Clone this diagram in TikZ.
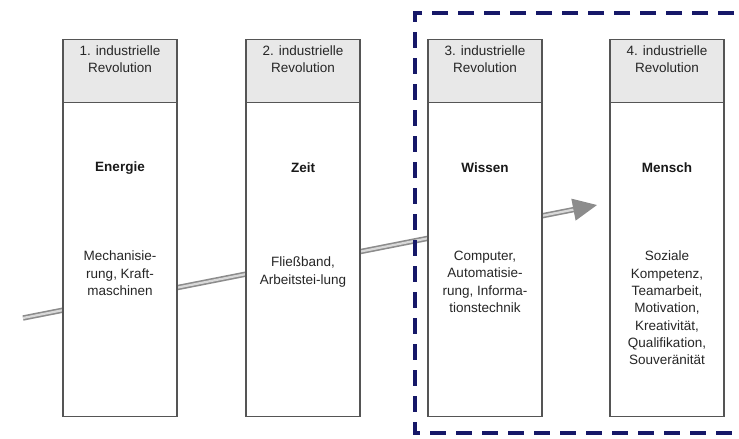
\documentclass[tikz,border=0pt]{standalone}
\usepackage{fontspec}
\setmainfont{Liberation Sans}
\usetikzlibrary{arrows.meta,positioning}
\definecolor{navyframe}{RGB}{22,24,104}
\definecolor{headgray}{RGB}{232,232,232}
\definecolor{boxline}{RGB}{85,85,85}
\tikzset{
  headbox/.style={draw=boxline, line width=1.3pt, fill=headgray, minimum width=114pt, minimum height=63pt, inner sep=0pt, anchor=north},
  bodybox/.style={draw=boxline, line width=1.3pt, fill=white, minimum width=114pt, minimum height=314pt, inner sep=0pt, anchor=north},
  headtext/.style={align=center, anchor=north, inner sep=0pt, text=black!85, font=\fontsize{13.5}{17}\selectfont},
  keytext/.style={inner sep=0pt, text=black!90, font=\fontsize{13.5}{17}\selectfont\bfseries},
  bodytext/.style={align=center, anchor=north, inner sep=0pt, text=black!85, font=\fontsize{13.5}{17.3}\selectfont},
  timeline/.style={draw=gray!90, line width=1.6pt, double=gray!30, double distance=2.2pt, -{Triangle[length=24pt,width=22pt,fill=gray!90]}},
  frame/.style={draw=navyframe, line width=4pt, dash pattern=on 16pt off 10pt}
}
\begin{document}
\begin{tikzpicture}[x=1pt,y=-1pt]
  \useasboundingbox (0,0) rectangle (739,439);
  \coordinate (start) at (23,318);
  \coordinate (tip) at (597,205);
  \draw[timeline] (start) -- (tip);
  \draw[frame] (760,13) -- (415,13) -- (415,433) -- (760,433);

  \node[bodybox] (body1) at (120,102) {};
  \node[headbox] (head1) at (120,39) {};
  \node[headtext] (rev1) at (120,46) {1. industrielle\\Revolution};
  \node[keytext] (key1) at (120,168) {Energie};
  \node[bodytext] (txt1) at (120,251) {Mechanisie-\\rung, Kraft-\\maschinen};

  \node[bodybox] (body2) at (303,102) {};
  \node[headbox] (head2) at (303,39) {};
  \node[headtext] (rev2) at (303,46) {2. industrielle\\Revolution};
  \node[keytext] (key2) at (303,168) {Zeit};
  \node[bodytext] (txt2) at (303,257) {Fließband,\\Arbeitstei-lung};

  \node[bodybox] (body3) at (485,102) {};
  \node[headbox] (head3) at (485,39) {};
  \node[headtext] (rev3) at (485,46) {3. industrielle\\Revolution};
  \node[keytext] (key3) at (485,168) {Wissen};
  \node[bodytext] (txt3) at (485,251) {Computer,\\Automatisie-\\rung, Informa-\\tionstechnik};

  \node[bodybox] (body4) at (667,102) {};
  \node[headbox] (head4) at (667,39) {};
  \node[headtext] (rev4) at (667,46) {4. industrielle\\Revolution};
  \node[keytext] (key4) at (667,168) {Mensch};
  \node[bodytext] (txt4) at (667,251) {Soziale\\Kompetenz,\\Teamarbeit,\\Motivation,\\Kreativität,\\Qualifikation,\\Souveränität};
\end{tikzpicture}
\end{document}
